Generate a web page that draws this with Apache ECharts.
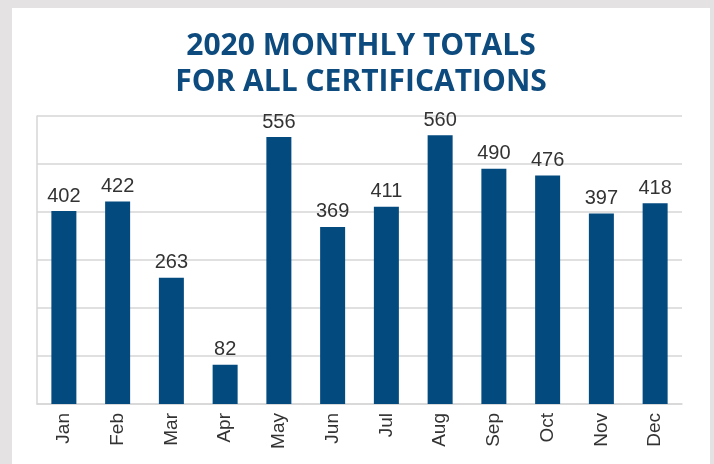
<!DOCTYPE html>
<html>
<head>
<meta charset="utf-8">
<script src="https://cdn.jsdelivr.net/npm/echarts@6/dist/echarts.min.js"></script>
<style>
  html, body { margin: 0; padding: 0; background: #e4e2e2; }
  #chart-container {
    position: absolute;
    left: 12px;
    top: 8px;
    width: 698px;
    height: 456px;
    background: #ffffff;
  }
</style>
</head>
<body>
<div id="chart-container"></div>
<script>
const months = ["Jan", "Feb", "Mar", "Apr", "May", "Jun", "Jul", "Aug", "Sep", "Oct", "Nov", "Dec"];
const totals = [402, 422, 263, 82, 556, 369, 411, 560, 490, 476, 397, 418];
const titleLines = ["2020 MONTHLY TOTALS", "FOR ALL CERTIFICATIONS"];

(function monthlyChart() {
  var dom = document.getElementById("chart-container");
  var myChart = echarts.init(dom, null, { renderer: "canvas" });

  var option = {
    animation: false,
    title: {
      text: titleLines.join("\n"),
      left: "center",
      top: 15,
      textStyle: {
        fontFamily: "Open Sans",
        fontWeight: "bold",
        fontSize: 30,
        lineHeight: 36,
        color: "#0d4b7e",
      },
    },
    grid: {
      left: 25,
      right: 28,
      top: 108,
      bottom: 60,
      containLabel: false,
    },
    xAxis: {
      type: "category",
      data: months,
      axisLine: { lineStyle: { color: "#d6d6d6", width: 1.5 } },
      axisTick: { show: false },
      axisLabel: {
        rotate: 90,
        margin: 9,
        fontFamily: "Liberation Sans",
        fontSize: 19,
        color: "#333333",
      },
    },
    yAxis: {
      type: "value",
      min: 0,
      max: 600,
      interval: 100,
      axisLine: { show: true, lineStyle: { color: "#d6d6d6", width: 1.5 } },
      axisTick: { show: false },
      axisLabel: { show: false },
      splitLine: { lineStyle: { color: "#d6d6d6", width: 1.5 } },
    },
    series: [
      {
        type: "bar",
        data: totals,
        barWidth: 25,
        itemStyle: { color: "#034a7f" },
        label: {
          show: true,
          position: "top",
          distance: 5,
          fontFamily: "Liberation Sans",
          fontSize: 20,
          color: "#333333",
        },
      },
    ],
  };

  option && myChart.setOption(option);
})();
</script>
</body>
</html>
